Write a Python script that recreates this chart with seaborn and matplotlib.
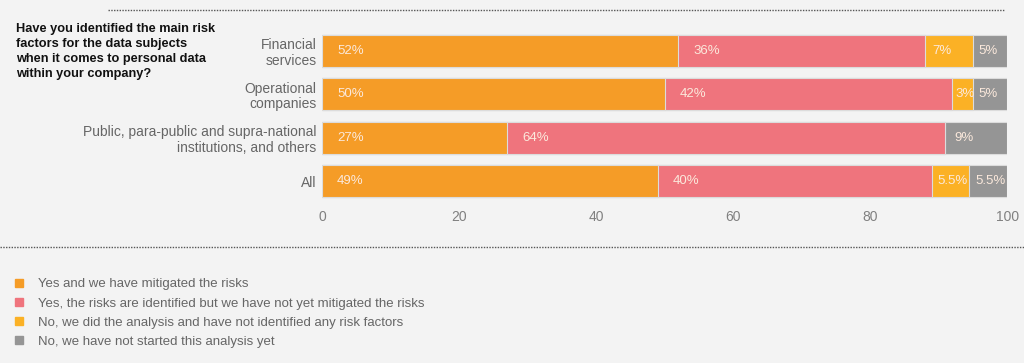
import matplotlib
matplotlib.use('Agg')
import matplotlib.pyplot as plt
from matplotlib.lines import Line2D
import numpy as np
import pandas as pd
import seaborn as sns

categories = ['Financial\nservices', 'Operational\ncompanies',
              'Public, para-public and supra-national\ninstitutions, and others', 'All']
mitigated = [52, 50, 27, 49]
not_mitigated = [36, 42, 64, 40]
no_factors = [7, 3, 0, 5.5]
not_started = [5, 5, 9, 5.5]

series_names = ['Yes and we have mitigated the risks',
                'Yes, the risks are identified but we have not yet mitigated the risks',
                'No, we did the analysis and have not identified any risk factors',
                'No, we have not started this analysis yet']
series_values = [mitigated, not_mitigated, no_factors, not_started]
colors = ['#f59c27', '#ef747d', '#fbb125', '#959595']
question = ('Have you identified the main risk\nfactors for the data subjects\n'
            'when it comes to personal data\nwithin your company?')

bg = '#f3f3f3'
sns.set_theme(style='white')
plt.rcParams['font.family'] = ['Liberation Sans', 'DejaVu Sans']

fig = plt.figure(figsize=(10.24, 3.63), dpi=100, facecolor=bg)
ax = fig.add_axes([0.3145, 0.4416, 0.669, 0.4777], facecolor=bg)

vals = np.array(series_values, dtype=float)
cum = np.cumsum(vals, axis=0)

# stacked bars: draw cumulative totals from the back to the front
for i in range(len(series_values) - 1, -1, -1):
    df = pd.DataFrame({'cat': categories, 'val': cum[i]})
    sns.barplot(data=df, x='val', y='cat', orient='h', color=colors[i],
                saturation=1, width=0.74, edgecolor='#dcdcdc', linewidth=0.8, ax=ax)

# value labels
for i in range(len(series_values)):
    for j in range(len(categories)):
        v = vals[i, j]
        if v <= 0:
            continue
        left = cum[i, j] - v
        off = min(2.2, 0.15 * v)
        txt = f'{v:g}%'
        ax.text(left + off, j, txt, va='center', ha='left', fontsize=9.5,
                color='#fbe9dc')

ax.set_xlim(0, 100)
ax.set_ylim(3.5, -0.5)
ax.set_xticks([0, 20, 40, 60, 80, 100])
ax.set_xlabel('')
ax.set_ylabel('')
for s in ax.spines.values():
    s.set_visible(False)
ax.tick_params(axis='x', length=0, pad=5, labelsize=10, labelcolor='#808080')
ax.tick_params(axis='y', length=0, pad=4, labelsize=10, labelcolor='#666666')
for lab in ax.get_yticklabels():
    lab.set_horizontalalignment('right')
    lab.set_linespacing(1.15)

# question text
fig.text(0.0156, 0.937, question, ha='left', va='top', fontsize=9.2,
         fontweight='bold', color='#111111', linespacing=1.33)

# dotted separators
fig.add_artist(Line2D([0.105, 0.98], [0.9725, 0.9725], transform=fig.transFigure,
                      color='#555555', lw=1, linestyle=(0, (1, 1))))
fig.add_artist(Line2D([0.0, 1.0], [0.3196, 0.3196], transform=fig.transFigure,
                      color='#555555', lw=1, linestyle=(0, (1, 1))))

# legend
handles = [Line2D([0], [0], marker='s', linestyle='none', markersize=6,
                  markerfacecolor=c, markeredgecolor=c) for c in colors]
leg = fig.legend(handles, series_names, loc='upper left',
                 bbox_to_anchor=(0.007, 0.248), frameon=False, fontsize=9.5,
                 handlelength=1.0, handletextpad=0.9, labelspacing=0.52,
                 borderaxespad=0)
for t in leg.get_texts():
    t.set_color('#666666')

fig.savefig('out.png', dpi=100, facecolor=bg)
